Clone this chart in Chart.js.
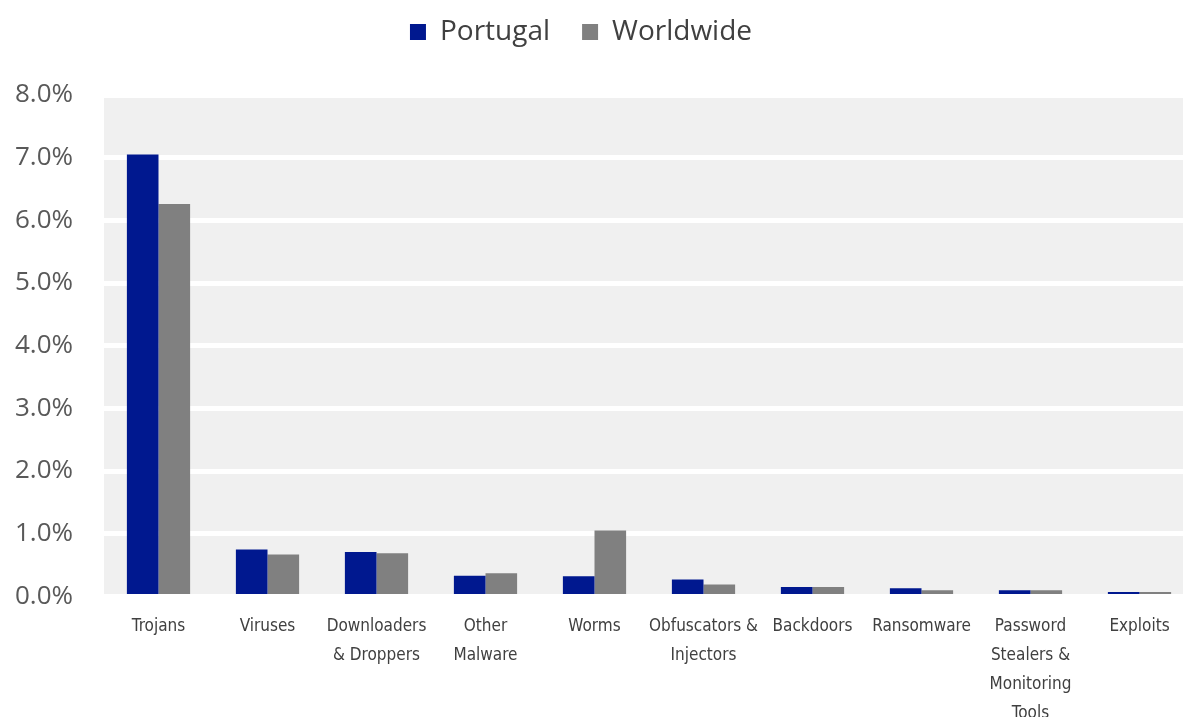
<!DOCTYPE html>
<html>
<head>
<meta charset="utf-8">
<script src="https://cdn.jsdelivr.net/npm/chart.js@4/dist/chart.umd.min.js"></script>
<style>
  html, body { margin: 0; padding: 0; background: #fff; overflow: hidden; }
  #wrap { width: 1194px; height: 736px; position: relative; }
</style>
</head>
<body>
<div id="wrap"><canvas id="malwareChart"></canvas></div>
<script>
/* ---------- DATA ---------- */
const categories = [
  "Trojans",
  "Viruses",
  ["Downloaders", "& Droppers"],
  ["Other", "Malware"],
  "Worms",
  ["Obfuscators &", "Injectors"],
  "Backdoors",
  "Ransomware",
  ["Password", "Stealers &", "Monitoring", "Tools"],
  "Exploits"
];
const portugalValues = [7.05, 0.75, 0.71, 0.33, 0.32, 0.27, 0.15, 0.13, 0.10, 0.07];
const worldwideValues = [6.26, 0.67, 0.69, 0.37, 1.05, 0.19, 0.15, 0.10, 0.10, 0.07];
const yTicks = [0, 1, 2, 3, 4, 5, 6, 7, 8];

/* ---------- PLUGINS ---------- */
const plotBackground = {
  id: "plotBackground",
  beforeDraw(chart) {
    const { ctx, chartArea } = chart;
    ctx.save();
    ctx.fillStyle = "#f0f0f0";
    ctx.fillRect(chartArea.left, chartArea.top, chartArea.right - chartArea.left, chartArea.bottom - chartArea.top);
    ctx.restore();
  }
};

// extra room under the legend, and nudge it a bit left like the original
const legendMargin = {
  id: "legendMargin",
  beforeInit(chart) {
    const fit = chart.legend.fit;
    chart.legend.fit = function () {
      fit.bind(chart.legend)();
      this.height += 39;
    };
  },
  afterLayout(chart) {
    chart.legend.right -= 46;
    chart.legend.width -= 46;
  }
};

/* ---------- CHART ---------- */
new Chart(document.getElementById("malwareChart"), {
  type: "bar",
  data: {
    labels: categories,
    datasets: [
      {
        label: "Portugal",
        data: portugalValues,
        backgroundColor: "#00188f"
      },
      {
        label: "Worldwide",
        data: worldwideValues,
        backgroundColor: "#808080"
      }
    ]
  },
  options: {
    responsive: true,
    maintainAspectRatio: false,
    animation: false,
    layout: { padding: { top: -14, left: 14, right: 0, bottom: 0 } },
    datasets: {
      bar: { categoryPercentage: 0.58, barPercentage: 1.0 }
    },
    plugins: {
      legend: {
        position: "top",
        labels: {
          boxWidth: 16,
          boxHeight: 16,
          padding: 32,
          color: "#404040",
          font: { family: "'Open Sans', sans-serif", size: 28 }
        }
      },
      tooltip: { enabled: false }
    },
    scales: {
      x: {
        grid: { display: false },
        border: { display: false },
        ticks: {
          autoSkip: false,
          maxRotation: 0,
          padding: 8,
          color: "#404040",
          font: { family: "'DejaVu Sans Condensed', 'Roboto', sans-serif", size: 17, lineHeight: 1.7 }
        }
      },
      y: {
        min: 0,
        max: 8,
        afterBuildTicks(axis) {
          axis.ticks = yTicks.map((v) => ({ value: v }));
        },
        afterFit(axis) {
          axis.width = 90;
        },
        grid: { color: "#ffffff", lineWidth: 5, drawTicks: false },
        border: { display: false },
        ticks: {
          padding: 31,
          color: "#595959",
          font: { family: "'Open Sans', sans-serif", size: 26 },
          callback: (v) => v.toFixed(1) + "%"
        }
      }
    }
  },
  plugins: [plotBackground, legendMargin]
});
</script>
</body>
</html>
